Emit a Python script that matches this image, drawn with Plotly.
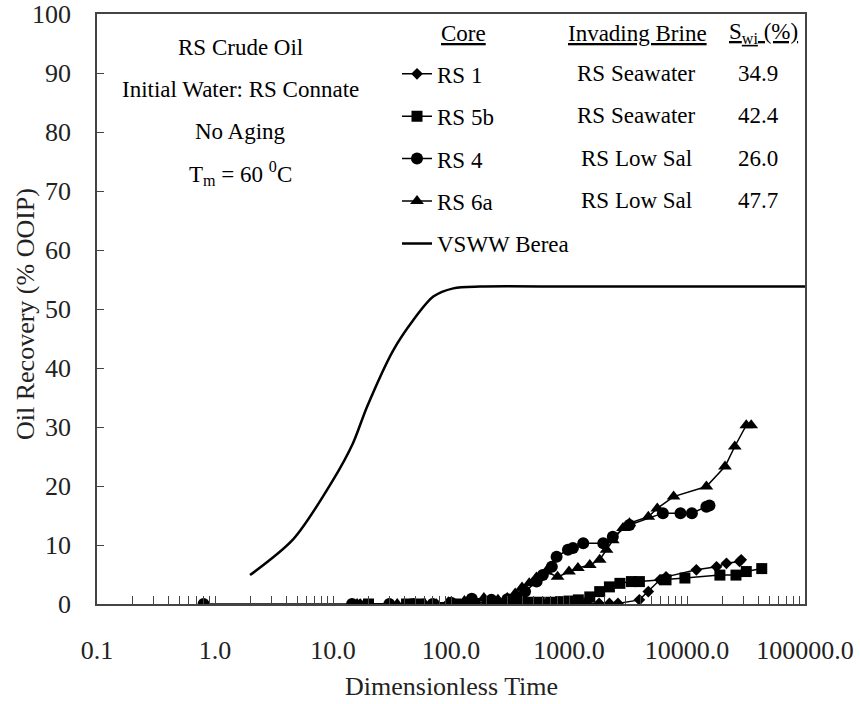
import plotly.graph_objects as go

# ---- data ----
rs1_t = [17, 30, 45, 58, 75, 100, 140, 200, 280, 380, 500, 650, 850, 1100, 1400, 1800, 2200, 2600,
         3950, 4700, 5900, 6640, 12000, 17800, 21600, 27900, 28800]
rs1_y = [0, 0, 0, 0, 0, 0.2, 0.3, 0.3, 0.3, 0.2, 0.2, 0.2, 0.2, 0.2, 0.2, 0.1, 0.1, 0.1,
         0.7, 2.1, 4.1, 4.6, 5.8, 6.3, 6.9, 7.2, 7.5]

rs5b_t = [20, 42, 55, 110, 160, 250, 330, 450, 560, 700, 850, 1000, 1200, 1500, 1820, 2200, 2700,
          3380, 3950, 6640, 9600, 19000, 26000, 31800, 43000]
rs5b_y = [0, 0, 0, 0, 0, 0, 0.2, 0.3, 0.3, 0.3, 0.4, 0.5, 0.7, 1.2, 2.1, 2.9, 3.5,
          3.8, 3.8, 4.1, 4.4, 4.9, 4.9, 5.5, 6.0]

rs4_t = [0.8, 14.5, 30, 48, 70, 100, 150, 220, 300, 360, 424, 532, 600, 715, 785, 980, 1080, 1320,
         1950, 2350, 3250, 6250, 8800, 11000, 14600, 15500]
rs4_y = [0, 0, 0, 0, 0, 0.2, 0.9, 0.7, 0.8, 1.2, 2.1, 3.8, 4.9, 6.3, 8.0, 9.2, 9.5, 10.3,
         10.3, 11.4, 13.4, 15.4, 15.4, 15.4, 16.5, 16.7]

rs6a_t = [16, 35, 60, 95, 130, 190, 250, 300, 350, 400, 460, 530, 640, 800, 1000, 1190, 1500, 1820,
          2080, 2350, 2870, 3250, 4700, 5600, 7700, 14600, 21000, 25400, 31800, 35000]
rs6a_y = [0, 0, 0, 0.3, 0.5, 1.0, 0.7, 1.0, 1.8, 2.8, 3.5, 4.5, 5.5, 4.6, 5.5, 6.1, 6.6, 7.5,
          9.2, 10.8, 12.9, 13.7, 14.8, 16.2, 18.2, 19.9, 23.3, 26.7, 30.3, 30.3]

berea_t = [1.98, 4.61, 10.0, 14.8, 19.4, 32.4, 47.8, 70.8, 104.6, 176, 1000, 10000, 100000]
berea_y = [4.9, 11.0, 21.0, 27.3, 33.4, 43.0, 48.1, 52.1, 53.5, 53.8, 53.8, 53.8, 53.8]

x_tickvals = [0.1, 1, 10, 100, 1000, 10000, 100000]
x_ticktext = ["0.1", "1.0", "10.0", "100.0", "1000.0", "10000.0", "100000.0"]

brines = ["RS Seawater", "RS Seawater", "RS Low Sal", "RS Low Sal"]
swi = ["34.9", "42.4", "26.0", "47.7"]
info_lines = ["RS Crude Oil", "Initial Water: RS Connate", "No Aging", "T<sub>m</sub> = 60 <sup>0</sup>C"]

FONT = "Liberation Serif, Times New Roman, serif"
AX = 26
TX = 23
fig = go.Figure()

series = [
    ("RS 1", rs1_t, rs1_y, "diamond", 9),
    ("RS 5b", rs5b_t, rs5b_y, "square", 11),
    ("RS 4", rs4_t, rs4_y, "circle", 12),
    ("RS 6a", rs6a_t, rs6a_y, "triangle-up", 12),
]
for i, (name, t, y, sym, sz) in enumerate(series):
    fig.add_trace(go.Scatter(x=t, y=y, name=name, mode="lines+markers",
                             line=dict(color="black", width=1.5),
                             marker=dict(symbol=sym, size=sz, color="black"),
                             legendgroup=f"g{i}"))
fig.add_trace(go.Scatter(x=berea_t, y=berea_y, name="VSWW Berea", mode="lines",
                         line=dict(color="black", width=2.5, shape="spline", smoothing=0.8),
                         legendgroup="g5"))

def py(ypix):
    return (604 - ypix) / 590 * 100

def px_log(xpix):
    return (xpix - 215) / 118.0

ann = []
ann.append(dict(x=px_log(463), y=py(33), text="<u>Core</u>"))
ann.append(dict(x=px_log(637), y=py(33), text="<u>Invading Brine</u>"))
ann.append(dict(x=px_log(763), y=py(33), text="<u>S<sub>wi</sub> (%)</u>"))
for k in range(4):
    ann.append(dict(x=px_log(636), y=py(73 + k * 42.5), text=brines[k]))
    ann.append(dict(x=px_log(758), y=py(73 + k * 42.5), text=swi[k]))
for k, s in enumerate(info_lines):
    ann.append(dict(x=px_log(240), y=py(47 + k * 42), text=s))
for a in ann:
    a.update(xref="x", yref="y", showarrow=False, xanchor="center", yanchor="middle",
             font=dict(family=FONT, size=TX, color="black"))

# axis titles
ann.append(dict(text="Oil Recovery (% OOIP)", xref="paper", yref="paper",
                x=(25 - 97) / 708, y=(604 - 314) / 590, textangle=-90, showarrow=False,
                xanchor="center", yanchor="middle", font=dict(family=FONT, size=AX, color="#222")))
ann.append(dict(text="Dimensionless Time", xref="paper", yref="paper",
                x=(451 - 97) / 708, y=(604 - 687) / 590, showarrow=False,
                xanchor="center", yanchor="middle", font=dict(family=FONT, size=AX, color="#222")))

fig.update_layout(
    width=860, height=704,
    margin=dict(l=97, r=55, t=14, b=100, autoexpand=False),
    paper_bgcolor="white", plot_bgcolor="white",
    font=dict(family=FONT, size=AX, color="#222"),
    annotations=ann,
    showlegend=True,
    legend=dict(x=(397 - 97) / 708, y=0.935, xanchor="left", yanchor="top",
                font=dict(family=FONT, size=TX, color="black"),
                bgcolor="rgba(0,0,0,0)", traceorder="grouped", tracegroupgap=9.5,
                itemwidth=30),
    xaxis=dict(type="log", range=[-1, 5], tickvals=x_tickvals, ticktext=x_ticktext,
               automargin=False,
               ticks="inside", ticklen=8, tickcolor="#444", showline=True, linecolor="#444",
               linewidth=1.5, mirror=True, showgrid=False, zeroline=False,
               minor=dict(ticks="inside", ticklen=8, tickcolor="#444", showgrid=False,
                          dtick="D1"),
               ticklabelstandoff=22,
               tickfont=dict(family=FONT, size=AX, color="#222")),
    yaxis=dict(range=[0, 100], dtick=10, ticks="inside", ticklen=7, tickcolor="#444",
               automargin=False,
               showline=True, linecolor="#444", linewidth=1.5, mirror=True, showgrid=False,
               zeroline=False, ticklabelstandoff=19,
               tickfont=dict(family=FONT, size=AX, color="#222")),
)

fig.write_html("out.html")
